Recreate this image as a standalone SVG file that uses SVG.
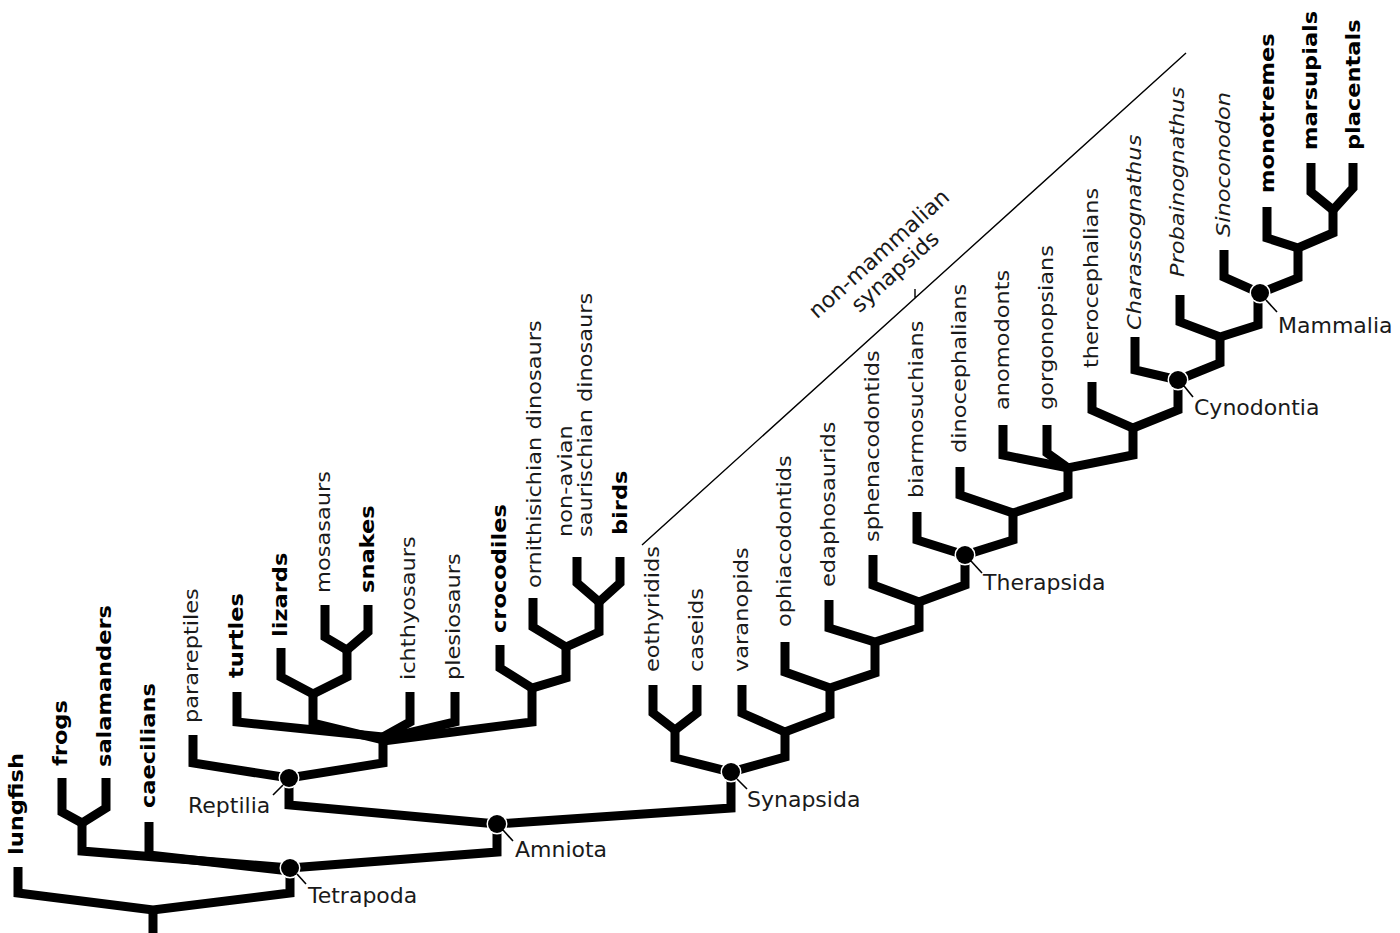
<svg xmlns="http://www.w3.org/2000/svg" width="1400" height="933" viewBox="0 0 1400 933">
<style>
.br{fill:none;stroke:#000;stroke-width:9;stroke-linejoin:miter;stroke-linecap:butt}
.ld{stroke:#000;stroke-width:1.6;fill:none}
.t{font-family:"DejaVu Sans",Verdana,sans-serif;font-size:22.5px;fill:#1a1a1a}
.b{font-weight:bold;fill:#000}
.i{font-style:italic}
.h{font-family:"DejaVu Sans",Verdana,sans-serif;font-size:22px;fill:#1a1a1a}
.dot{fill:#000;stroke:#fff;stroke-width:3;paint-order:stroke}
</style>
<rect width="1400" height="933" fill="#fff"/>
<g id="connectors">
<path class="br" d="M153,933 V910"/>
<path class="br" d="M18,867 V893 L153,910 L290,893 V868"/>
<path class="br" d="M62,778 V812 L82,823 L106,808 V778"/>
<path class="br" d="M82,823 V851 L290,868"/>
<path class="br" d="M149,822 V855 L290,871"/>
<path class="br" d="M290,868 L497,852 V824"/>
<path class="br" d="M497,824 L289,805 V778"/>
<path class="br" d="M497,824 L731,808 V772"/>
<path class="br" d="M193,735 V763 L289,778 L383,763 V737"/>
<path class="br" d="M237,692 V722 L383,737"/>
<path class="br" d="M281,648 V677 L313,694 L347,677 V650"/>
<path class="br" d="M325,605 V637 L347,650 L368,632 V605"/>
<path class="br" d="M313,694 V723 L383,740"/>
<path class="br" d="M410,692 V722 L383,737"/>
<path class="br" d="M455,692 V722 L383,739"/>
<path class="br" d="M532,688 V722 L383,741"/>
<path class="br" d="M500,645 V668 L532,688 L566,678 V647"/>
<path class="br" d="M533,598 V627 L566,647 L599,632 V602"/>
<path class="br" d="M577,557 V583 L599,602 L620,583 V557"/>
<path class="br" d="M675,730 V758 L731,772 L785,757 V732"/>
<path class="br" d="M653,685 V713 L675,730 L697,713 V685"/>
<path class="br" d="M742,685 V713 L785,732 L830,715 V688"/>
<path class="br" d="M785,642 V672 L830,688 L875,673 V642"/>
<path class="br" d="M829,600 V628 L875,642 L919,628 V602"/>
<path class="br" d="M873,555 V585 L919,602 L965,585 V555"/>
<path class="br" d="M917,512 V540 L965,555 L1013,540 V513"/>
<path class="br" d="M960,467 V495 L1013,513 L1068,495 V468"/>
<path class="br" d="M1003,425 V455 L1068,468 L1133,455 V428"/>
<path class="br" d="M1047,425 V453 L1068,468"/>
<path class="br" d="M1092,382 V410 L1133,428 L1178,410 V380"/>
<path class="br" d="M1135,337 V370 L1178,380 L1220,363 V337"/>
<path class="br" d="M1180,295 V322 L1220,337 L1258,325 V293"/>
<path class="br" d="M1224,250 V277 L1260,293 L1298,278 V248"/>
<path class="br" d="M1267,207 V238 L1298,248 L1333,233 V210"/>
<path class="br" d="M1311,163 V192 L1333,210 L1353,188 V163"/>
<path stroke="#000" stroke-width="1.4" fill="none" d="M642,545 L1186,53 M915,298 V289"/>
</g>
<g id="node-tetrapoda"><circle class="dot" cx="290" cy="868" r="9"/><path class="ld" d="M297,874 L306,884"/><text class="h" x="308" y="903">Tetrapoda</text></g>
<g id="node-amniota"><circle class="dot" cx="497" cy="824" r="9"/><path class="ld" d="M503,830 L513,841"/><text class="h" x="515" y="857">Amniota</text></g>
<g id="node-reptilia"><circle class="dot" cx="289" cy="778" r="9"/><path class="ld" d="M283,785 L273,795"/><text class="h" x="188" y="813">Reptilia</text></g>
<g id="node-synapsida"><circle class="dot" cx="731" cy="772" r="9"/><path class="ld" d="M737,779 L747,789"/><text class="h" x="747" y="807">Synapsida</text></g>
<g id="node-therapsida"><circle class="dot" cx="965" cy="555" r="9"/><path class="ld" d="M971,561 L982,573"/><text class="h" x="983" y="590">Therapsida</text></g>
<g id="node-cynodontia"><circle class="dot" cx="1178" cy="380" r="9"/><path class="ld" d="M1184,386 L1193,397"/><text class="h" x="1194" y="415">Cynodontia</text></g>
<g id="node-mammalia"><circle class="dot" cx="1260" cy="293" r="9"/><path class="ld" d="M1266,300 L1277,312"/><text class="h" x="1278" y="333">Mammalia</text></g>
<g id="clade-nonmammalian"><g transform="translate(900,277) rotate(-42.1)"><text class="h" x="0" y="-24" text-anchor="middle">non-mammalian</text><text class="h" x="0" y="0" text-anchor="middle">synapsids</text></g></g>
<g id="tip-lungfish"><text class="t b" transform="matrix(0,-1,0.85,0,23,855)">lungfish</text></g>
<g id="tip-frogs"><text class="t b" transform="matrix(0,-1,0.85,0,67,766)">frogs</text></g>
<g id="tip-salamanders"><text class="t b" transform="matrix(0,-1,0.85,0,111,767)">salamanders</text></g>
<g id="tip-caecilians"><text class="t b" transform="matrix(0,-1,0.85,0,155,808)">caecilians</text></g>
<g id="tip-parareptiles"><text class="t" transform="matrix(0,-1,0.85,0,198,723)">parareptiles</text></g>
<g id="tip-turtles"><text class="t b" transform="matrix(0,-1,0.85,0,243,678)">turtles</text></g>
<g id="tip-lizards"><text class="t b" transform="matrix(0,-1,0.85,0,287,637)">lizards</text></g>
<g id="tip-mosasaurs"><text class="t" transform="matrix(0,-1,0.85,0,330,593)">mosasaurs</text></g>
<g id="tip-snakes"><text class="t b" transform="matrix(0,-1,0.85,0,374,593)">snakes</text></g>
<g id="tip-ichthyosaurs"><text class="t" transform="matrix(0,-1,0.85,0,415,680)">ichthyosaurs</text></g>
<g id="tip-plesiosaurs"><text class="t" transform="matrix(0,-1,0.85,0,460,680)">plesiosaurs</text></g>
<g id="tip-crocodiles"><text class="t b" transform="matrix(0,-1,0.85,0,506,633)">crocodiles</text></g>
<g id="tip-ornithischians"><text class="t" transform="matrix(0,-1,0.85,0,541,588)">ornithisichian dinosaurs</text></g>
<g id="tip-saurischians"><text class="t" transform="matrix(0,-1,0.85,0,572,537)">non-avian</text><text class="t" transform="matrix(0,-1,0.85,0,592,537)">saurischian dinosaurs</text></g>
<g id="tip-birds"><text class="t b" transform="matrix(0,-1,0.85,0,627,535)">birds</text></g>
<g id="tip-eothyridids"><text class="t" transform="matrix(0,-1,0.85,0,659,672)">eothyridids</text></g>
<g id="tip-caseids"><text class="t" transform="matrix(0,-1,0.85,0,703,672)">caseids</text></g>
<g id="tip-varanopids"><text class="t" transform="matrix(0,-1,0.85,0,748,672)">varanopids</text></g>
<g id="tip-ophiacodontids"><text class="t" transform="matrix(0,-1,0.85,0,791,627)">ophiacodontids</text></g>
<g id="tip-edaphosaurids"><text class="t" transform="matrix(0,-1,0.85,0,835,587)">edaphosaurids</text></g>
<g id="tip-sphenacodontids"><text class="t" transform="matrix(0,-1,0.85,0,879,542)">sphenacodontids</text></g>
<g id="tip-biarmosuchians"><text class="t" transform="matrix(0,-1,0.85,0,923,498)">biarmosuchians</text></g>
<g id="tip-dinocephalians"><text class="t" transform="matrix(0,-1,0.85,0,966,453)">dinocephalians</text></g>
<g id="tip-anomodonts"><text class="t" transform="matrix(0,-1,0.85,0,1009,410)">anomodonts</text></g>
<g id="tip-gorgonopsians"><text class="t" transform="matrix(0,-1,0.85,0,1053,410)">gorgonopsians</text></g>
<g id="tip-therocephalians"><text class="t" transform="matrix(0,-1,0.85,0,1098,368)">therocephalians</text></g>
<g id="tip-charassognathus"><text class="t i" transform="matrix(0,-1,0.85,0,1141,330)">Charassognathus</text></g>
<g id="tip-probainognathus"><text class="t i" transform="matrix(0,-1,0.85,0,1184,277)">Probainognathus</text></g>
<g id="tip-sinoconodon"><text class="t i" transform="matrix(0,-1,0.85,0,1230,237)">Sinoconodon</text></g>
<g id="tip-monotremes"><text class="t b" transform="matrix(0,-1,0.85,0,1274,193)">monotremes</text></g>
<g id="tip-marsupials"><text class="t b" transform="matrix(0,-1,0.85,0,1317,150)">marsupials</text></g>
<g id="tip-placentals"><text class="t b" transform="matrix(0,-1,0.85,0,1360,150)">placentals</text></g>
</svg>
